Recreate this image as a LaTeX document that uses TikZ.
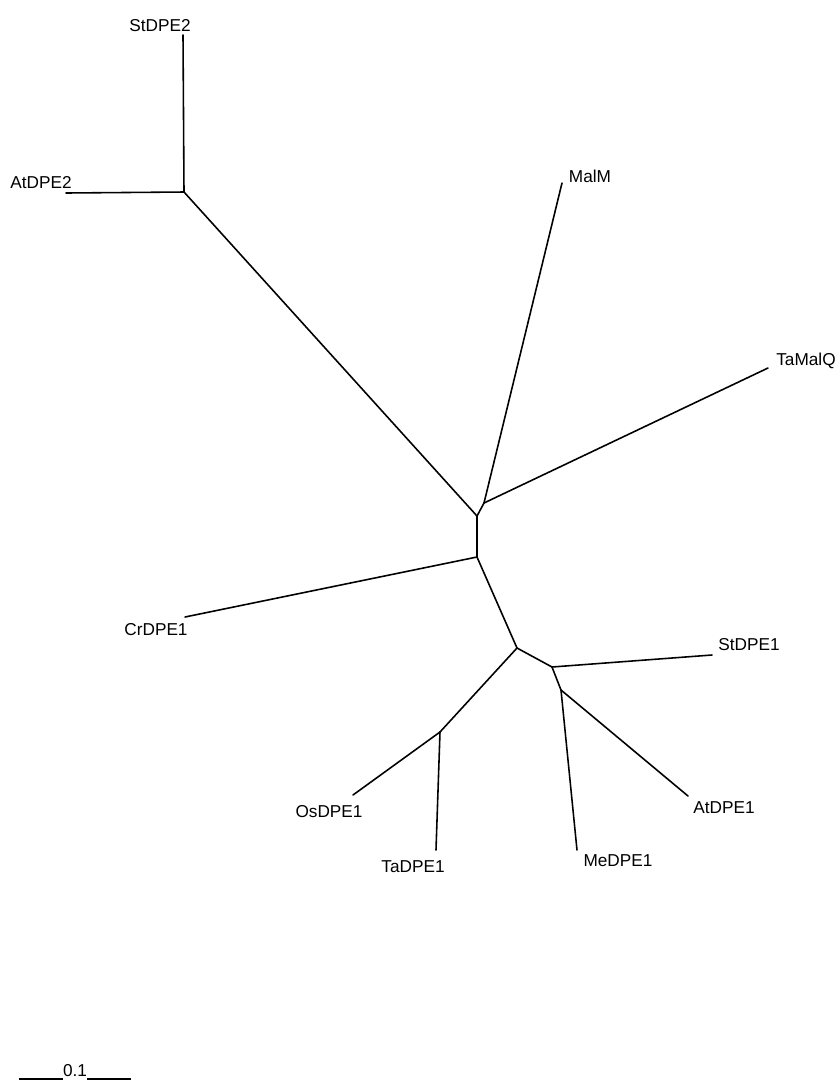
\documentclass[tikz,border=0pt]{standalone}
\usepackage{fontspec}
\setmainfont{Liberation Sans}
\begin{document}
\begin{tikzpicture}[x=0.02cm,y=-0.02cm,
  branch/.style={line width=0.9pt, line cap=round, line join=round},
  leaf/.style={inner sep=0pt, anchor=base, font=\fontsize{9.8}{11}\selectfont}]
\useasboundingbox (0,0) rectangle (838,1080);
% internal nodes
\coordinate (A) at (184,192);
\coordinate (B) at (477,516);
\coordinate (C) at (484,503);
\coordinate (D) at (477,557);
\coordinate (E) at (517,648);
\coordinate (F) at (552,667);
\coordinate (G) at (561,690);
\coordinate (H) at (440,732);
% tips
\coordinate (tStDPE2) at (183,35);
\coordinate (tAtDPE2) at (66,193);
\coordinate (tMalM) at (562,183);
\coordinate (tTaMalQ) at (768,368);
\coordinate (tCrDPE1) at (185,617);
\coordinate (tStDPE1) at (712,655);
\coordinate (tAtDPE1) at (688,796);
\coordinate (tMeDPE1) at (577,850);
\coordinate (tOsDPE1) at (353,795);
\coordinate (tTaDPE1) at (436,850);
% labels
\node[leaf] (lStDPE2) at (160,31) {StDPE2};
\node[leaf] (lAtDPE2) at (41,188) {AtDPE2};
\node[leaf] (lMalM) at (590,182) {MalM};
\node[leaf] (lTaMalQ) at (806,365) {TaMalQ};
\node[leaf] (lCrDPE1) at (156,635) {CrDPE1};
\node[leaf] (lStDPE1) at (749,650) {StDPE1};
\node[leaf] (lAtDPE1) at (724,813) {AtDPE1};
\node[leaf] (lMeDPE1) at (618,866) {MeDPE1};
\node[leaf] (lOsDPE1) at (329,817) {OsDPE1};
\node[leaf] (lTaDPE1) at (413,872) {TaDPE1};
% branches
\draw[branch] (A) -- (tStDPE2);
\draw[branch] (A) -- (tAtDPE2);
\draw[branch] (A) -- (B);
\draw[branch] (B) -- (C);
\draw[branch] (C) -- (tMalM);
\draw[branch] (C) -- (tTaMalQ);
\draw[branch] (B) -- (D);
\draw[branch] (D) -- (tCrDPE1);
\draw[branch] (D) -- (E);
\draw[branch] (E) -- (F);
\draw[branch] (F) -- (tStDPE1);
\draw[branch] (F) -- (G);
\draw[branch] (G) -- (tAtDPE1);
\draw[branch] (G) -- (tMeDPE1);
\draw[branch] (E) -- (H);
\draw[branch] (H) -- (tOsDPE1);
\draw[branch] (H) -- (tTaDPE1);
% scale bar
\node[leaf] (scale) at (75,1076) {0.1};
\coordinate (s1) at (19,1079);
\coordinate (s2) at (63,1079);
\coordinate (s3) at (87,1079);
\coordinate (s4) at (131,1079);
\draw[line width=0.6pt] (s1) -- (s2);
\draw[line width=0.6pt] (s3) -- (s4);
\end{tikzpicture}
\end{document}
